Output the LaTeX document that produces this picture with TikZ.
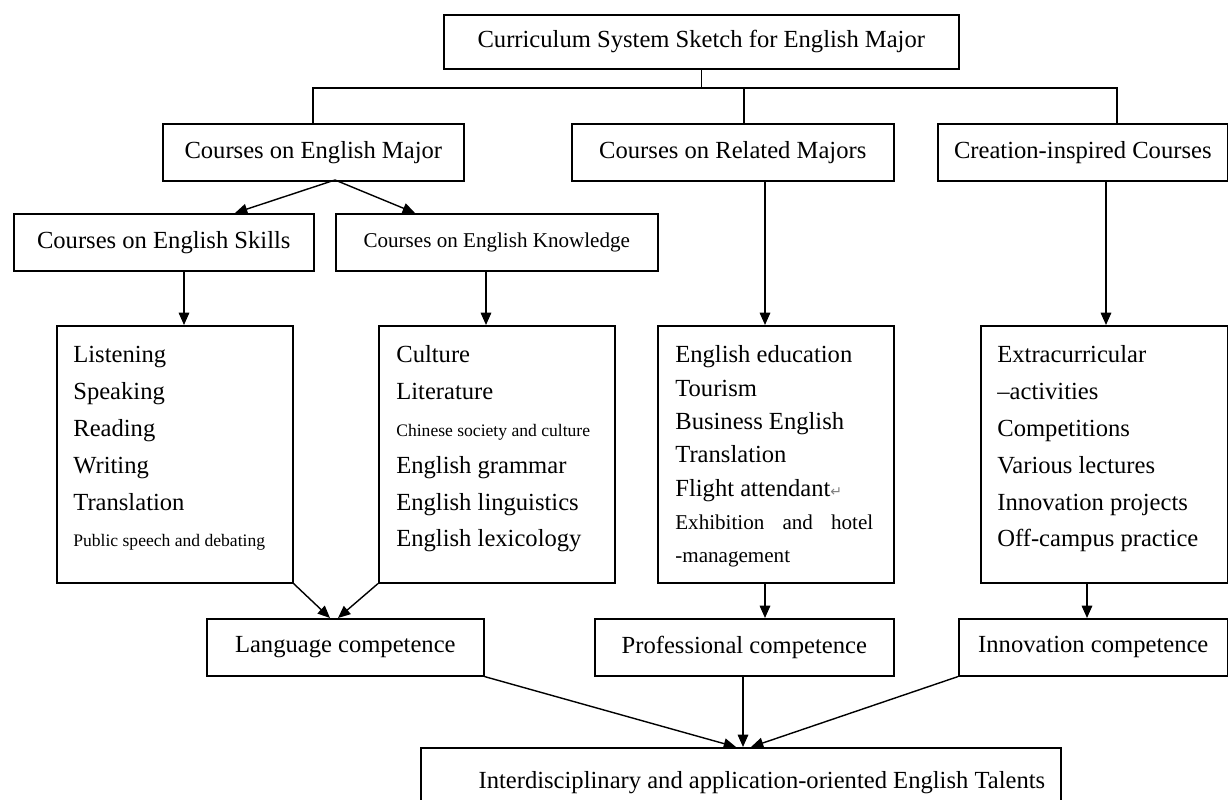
\documentclass[tikz,border=0pt]{standalone}
\usepackage{fontspec}
\setmainfont{Liberation Serif}
\newfontfamily\symfont{DejaVu Sans}
\usetikzlibrary{arrows.meta}

\tikzset{
  box/.style={draw, line width=0.9pt, anchor=north west, inner sep=0pt,
    font=\fontsize{14}{17}\selectfont},
  wh/.style 2 args={minimum width=#1*0.02cm, minimum height=#2*0.02cm},
  item/.style={anchor=base west, inner sep=0pt, font=\fontsize{14}{17}\selectfont},
  link/.style={line width=0.8pt},
  arr/.style={link, -{Triangle[length=7pt,width=6pt]}}
}

\begin{document}
\begin{tikzpicture}[x=0.02cm, y=-0.02cm]
	\useasboundingbox (0,0) rectangle (1228,800);
	
	% upper levels
	\node[box, wh={515}{54}] (title) at (443,14) {Curriculum System Sketch for English Major};
	\node[box, wh={301}{57}] (maj) at (162,123) {Courses on English Major};
	\node[box, wh={322}{57}] (rel) at (571,123) {Courses on Related Majors};
	\node[box, wh={290}{57}] (cre) at (937,123) {Creation-inspired Courses};
	\node[box, wh={300}{57}] (skl) at (13,213) {Courses on English Skills};
	\node[box, wh={322}{57}, font=\fontsize{12}{14}\selectfont] (knw) at (335,213) {Courses on English Knowledge};
	
	% course lists
	\node[box, wh={236}{257}] (lskl) at (56,325) {};
	\node[box, wh={236}{257}] (lknw) at (378,325) {};
	\node[box, wh={236}{257}] (lrel) at (657,325) {};
	\node[box, wh={247}{257}] (lcre) at (980,325) {};
	
	\foreach \t [count=\i] in {Listening,Speaking,Reading,Writing,Translation,
		{\fontsize{10}{12}\selectfont Public speech and debating}}
		\node[item] at (73,{363+(\i-1)*36.8}) {\t};
	
	\foreach \t [count=\i] in {Culture,Literature,
		{\fontsize{10}{12}\selectfont Chinese society and culture},
		English grammar,English linguistics,English lexicology}
		\node[item] at (396,{363+(\i-1)*36.8}) {\t};
	
	\foreach \t [count=\i] in {English education,Tourism,Business English,Translation,
		{Flight attendant{\symfont\fontsize{8}{8}\selectfont\color{gray}↵}},
		{\fontsize{12}{14}\selectfont\hbox to 3.96cm{Exhibition\hfil and\hfil hotel}},
		{\fontsize{12}{14}\selectfont -management}}
		\node[item] at (675,{363+(\i-1)*33.3}) {\t};
	
	\foreach \t [count=\i] in {Extracurricular,--activities,Competitions,
		Various lectures,Innovation projects,Off-campus practice}
		\node[item] at (997,{363+(\i-1)*36.8}) {\t};
	
	% competences
	\node[box, wh={277}{57}] (lang) at (206,618) {\raisebox{-2pt}{Language competence}};
	\node[box, wh={299}{57}] (prof) at (594,618) {\raisebox{-2pt}{Professional competence}};
	\node[box, wh={269}{57}] (inno) at (958,618) {\raisebox{-2pt}{Innovation competence}};
	\node[box, wh={640}{80}] (tal) at (420,747) {\raisebox{0.3cm}{\hspace{24pt}Interdisciplinary and application-oriented English Talents}};
	
	% connectors
	\coordinate (bus) at (700,88);
	\draw[link] (title.south) -- (title.south |- bus);
	\draw[link] (maj.north -| 313,0) -- (313,88) -- (1117,88) -- (cre.north -| 1117,0);
	\draw[link] (744,88) -- (rel.north -| 744,0);
	
	\coordinate (majout) at (335,180);
	\draw[arr] (majout) -- (skl.north -| 235,0);
	\draw[arr] (majout) -- (knw.north -| 415,0);
	
	\draw[arr] (skl.south -| 184,0) -- (lskl.north -| 184,0);
	\draw[arr] (knw.south -| 486,0) -- (lknw.north -| 486,0);
	\draw[arr] (rel.south -| 765,0) -- (lrel.north -| 765,0);
	\draw[arr] (cre.south -| 1106,0) -- (lcre.north -| 1106,0);
	
	\draw[arr] (lskl.south east) -- (lang.north -| 330,0);
	\draw[arr] (lknw.south west) -- (lang.north -| 338,0);
	\draw[arr] (lrel.south -| 765,0) -- (prof.north -| 765,0);
	\draw[arr] (lcre.south -| 1087,0) -- (inno.north -| 1087,0);
	
	\draw[arr] (lang.south east) -- (tal.north -| 736,0);
	\draw[arr] (prof.south -| 743,0) -- (tal.north -| 743,0);
	\draw[arr] (inno.south west) -- (tal.north -| 751,0);
\end{tikzpicture}
\end{document}
